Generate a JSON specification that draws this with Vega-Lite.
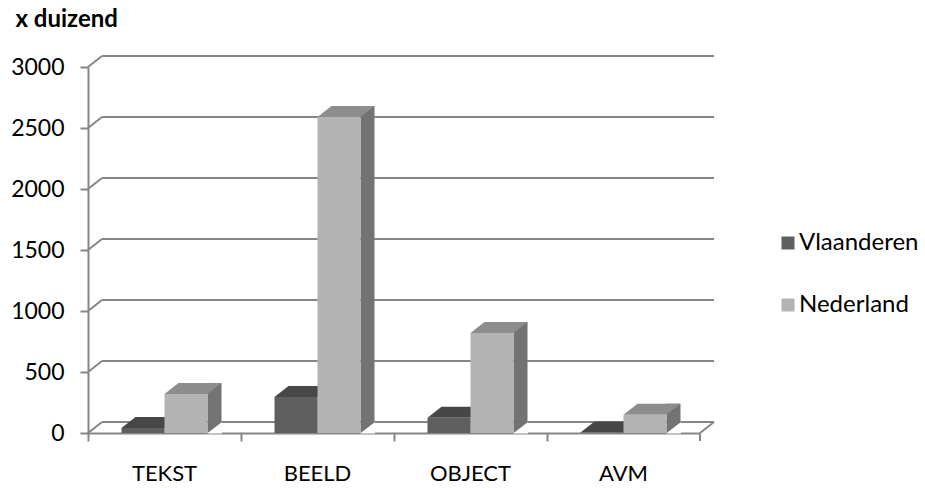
{
  "$schema": "https://vega.github.io/schema/vega-lite/v6.json",
  "width": 612,
  "height": 366,
  "autosize": "none",
  "padding": {"left": 88, "top": 67, "right": 225, "bottom": 55},
  "background": "white",
  "config": {
    "view": {"stroke": null},
    "font": "Lato",
    "axisX": {"domainColor": "#868686", "domainWidth": 2, "tickColor": "#868686", "tickWidth": 2, "tickSize": 8, "labelFontSize": 22, "labelColor": "#000000", "labelPadding": 22, "grid": false, "bandPosition": 0, "labelAngle": 0},
    "axisY": {"domainColor": "#868686", "domainWidth": 2, "tickColor": "#868686", "tickWidth": 2, "tickSize": 8, "labelFontSize": 23, "labelColor": "#000000", "labelPadding": 16, "grid": false}
  },
  "datasets": {
    "bars": [
      {"cat": "TEKST", "series": "Vlaanderen", "value": 40},
      {"cat": "TEKST", "series": "Nederland", "value": 320},
      {"cat": "BEELD", "series": "Vlaanderen", "value": 295},
      {"cat": "BEELD", "series": "Nederland", "value": 2590},
      {"cat": "OBJECT", "series": "Vlaanderen", "value": 125},
      {"cat": "OBJECT", "series": "Nederland", "value": 820},
      {"cat": "AVM", "series": "Vlaanderen", "value": 5},
      {"cat": "AVM", "series": "Nederland", "value": 150}
    ],
    "grid": [{"v": 0}, {"v": 500}, {"v": 1000}, {"v": 1500}, {"v": 2000}, {"v": 2500}, {"v": 3000}]
  },
  "layer": [
    {
      "data": {"name": "grid"},
      "mark": {"type": "rule", "color": "#868686", "strokeWidth": 2, "xOffset": 14, "x2Offset": 14, "yOffset": -11},
      "encoding": {
        "x": {"datum": "TEKST", "type": "nominal", "bandPosition": 0,
              "scale": {"type": "band", "domain": ["TEKST", "BEELD", "OBJECT", "AVM"], "paddingInner": 0, "paddingOuter": 0},
              "axis": {"title": null}},
        "x2": {"datum": "AVM", "bandPosition": 1},
        "y": {"field": "v", "type": "quantitative",
              "scale": {"domain": [0, 3000], "nice": false, "zero": true},
              "axis": {"title": "x duizend", "titleAngle": 0, "titleAlign": "left", "titleBaseline": "alphabetic", "titleX": -73, "titleY": -41, "titleFontSize": 24, "titleFontWeight": "bold", "titleColor": "#000000", "format": "d", "values": [0, 500, 1000, 1500, 2000, 2500, 3000]}}
      }
    },
    {
      "data": {"name": "grid"},
      "mark": {"type": "rule", "color": "#868686", "strokeWidth": 2, "x2Offset": 14, "y2Offset": -11},
      "encoding": {
        "x": {"datum": "TEKST", "type": "nominal", "bandPosition": 0},
        "x2": {"datum": "TEKST", "bandPosition": 0},
        "y": {"field": "v", "type": "quantitative"},
        "y2": {"field": "v"}
      }
    },
    {
      "data": {"values": [{"k": 1}]},
      "mark": {"type": "rule", "color": "#868686", "strokeWidth": 2, "x2Offset": 14, "y2Offset": -11},
      "encoding": {
        "x": {"datum": "AVM", "type": "nominal", "bandPosition": 1},
        "x2": {"datum": "AVM", "bandPosition": 1},
        "y": {"datum": 0, "type": "quantitative"},
        "y2": {"datum": 0}
      }
    },
    {
      "data": {"values": [{"k": 1}]},
      "mark": {"type": "rule", "color": "#868686", "strokeWidth": 2, "y2Offset": 8},
      "encoding": {
        "x": {"datum": "AVM", "type": "nominal", "bandPosition": 1},
        "y": {"datum": 0, "type": "quantitative"},
        "y2": {"datum": 0}
      }
    },
    {
      "data": {"name": "bars"},
      "transform": [{"filter": "datum.series === 'Vlaanderen'"}],
      "mark": {"type": "bar", "width": 14, "xOffset": 7, "yOffset": -11, "y2Offset": 0, "color": "#3c3c3c"},
      "encoding": {
        "x": {"field": "cat", "type": "nominal", "sort": null},
        "y": {"field": "value", "type": "quantitative"},
        "y2": {"datum": 0}
      }
    },
    {
      "data": {"name": "bars"},
      "transform": [{"filter": "datum.series === 'Vlaanderen'"}],
      "mark": {"type": "point", "shape": "M-21.5,0L21.5,0L35.5,-11L-7.5,-11Z", "size": 4, "filled": true, "opacity": 1, "strokeWidth": 0, "color": "#474747", "xOffset": -21.5},
      "encoding": {
        "x": {"field": "cat", "type": "nominal", "sort": null},
        "y": {"field": "value", "type": "quantitative"}
      }
    },
    {
      "data": {"name": "bars"},
      "transform": [{"filter": "datum.series === 'Vlaanderen'"}],
      "mark": {"type": "bar", "width": 43, "xOffset": -21.5},
      "encoding": {
        "x": {"field": "cat", "type": "nominal", "sort": null},
        "y": {"field": "value", "type": "quantitative"},
        "y2": {"datum": 0},
        "color": {"field": "series", "type": "nominal",
                  "scale": {"domain": ["Vlaanderen", "Nederland"], "range": ["#5f5f5f", "#b3b3b3"]},
                  "legend": {"orient": "none", "legendX": 688, "legendY": 164, "title": null, "symbolType": "square", "symbolSize": 169, "symbolStrokeWidth": 0, "labelFontSize": 24, "labelColor": "#000000", "rowPadding": 38, "labelOffset": -1}}
      }
    },
    {
      "data": {"name": "bars"},
      "transform": [{"filter": "datum.series === 'Nederland'"}],
      "mark": {"type": "bar", "width": 14, "xOffset": 50, "yOffset": -11, "y2Offset": 0, "color": "#737373"},
      "encoding": {
        "x": {"field": "cat", "type": "nominal", "sort": null},
        "y": {"field": "value", "type": "quantitative"},
        "y2": {"datum": 0}
      }
    },
    {
      "data": {"name": "bars"},
      "transform": [{"filter": "datum.series === 'Nederland'"}],
      "mark": {"type": "point", "shape": "M-7.5,0.5L7.5,0.5L7.5,-11Z", "size": 4, "filled": true, "opacity": 1, "strokeWidth": 0, "color": "#ffffff", "xOffset": 50},
      "encoding": {
        "x": {"field": "cat", "type": "nominal", "sort": null},
        "y": {"datum": 0, "type": "quantitative"}
      }
    },
    {
      "data": {"name": "bars"},
      "transform": [{"filter": "datum.series === 'Nederland'"}],
      "mark": {"type": "point", "shape": "M-21.5,0L21.5,0L35.5,-11L-7.5,-11Z", "size": 4, "filled": true, "opacity": 1, "strokeWidth": 0, "color": "#8d8d8d", "xOffset": 21.5},
      "encoding": {
        "x": {"field": "cat", "type": "nominal", "sort": null},
        "y": {"field": "value", "type": "quantitative"}
      }
    },
    {
      "data": {"name": "bars"},
      "transform": [{"filter": "datum.series === 'Nederland'"}],
      "mark": {"type": "bar", "width": 43, "xOffset": 21.5},
      "encoding": {
        "x": {"field": "cat", "type": "nominal", "sort": null},
        "y": {"field": "value", "type": "quantitative"},
        "y2": {"datum": 0},
        "color": {"field": "series", "type": "nominal"}
      }
    }
  ]
}
